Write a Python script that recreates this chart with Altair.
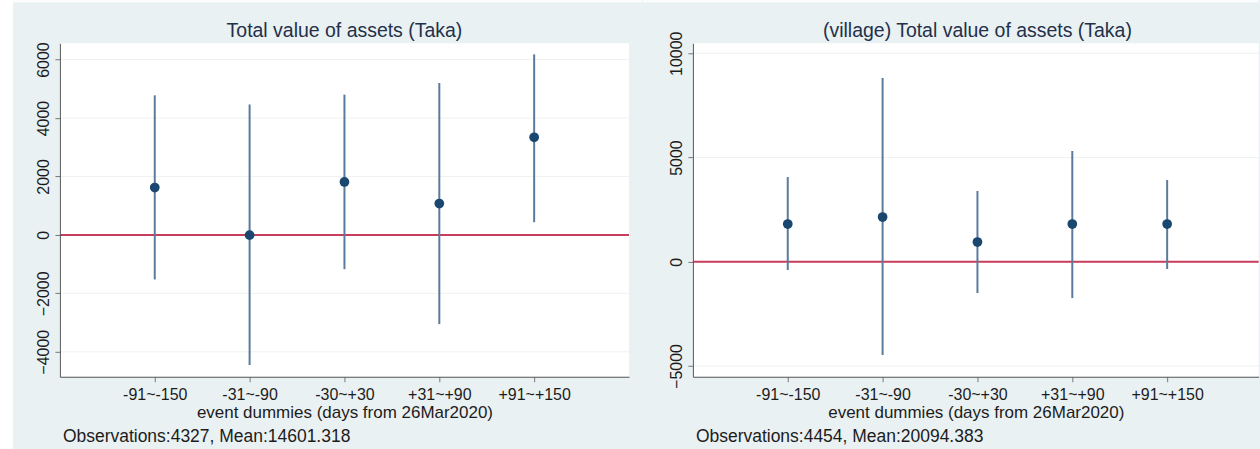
import altair as alt
import pandas as pd

# Event-window categories (days from 26Mar2020)
categories = ["-91~-150", "-31~-90", "-30~+30", "+31~+90", "+91~+150"]
positions = [1, 2, 3, 4, 5]

# Panel A: total value of assets (Taka)
a_coef = [1620, -10, 1812, 1073, 3340]
a_low = [-1525, -4454, -1173, -3053, 434]
a_high = [4776, 4458, 4800, 5197, 6178]
a_ticks = [-4000, -2000, 0, 2000, 4000, 6000]
a_domain = [-4855, 6557]

# Panel B: (village) total value of assets (Taka)
b_coef = [1809, 2145, 945, 1809, 1809]
b_low = [-398, -4477, -1502, -1742, -350]
b_high = [4064, 8815, 3393, 5312, 3920]
b_ticks = [-5000, 0, 5000, 10000]
b_domain = [-5518, 10480]

titles = ["Total value of assets (Taka)", "(village) Total value of assets (Taka)"]
notes = ["Observations:4327, Mean:14601.318", "Observations:4454, Mean:20094.383"]
x_title = "event dummies (days from 26Mar2020)"

W, H = 570, 334          # full plot-region size
FONT = "Liberation Sans"
PANEL_BG = "#EAF1F3"
TEXT = "#1c1c1c"
NAVY = "#1a476f"
CI = "#5a7b9b"
ZERO = "#c93d5c"

label_expr = "[" + ",".join("'%s'" % c for c in categories) + "][datum.value - 1]"


def panel(coef, low, high, ticks, domain, title, note, width, left_edge, right_edge,
          white_margin):
    df = pd.DataFrame({"pos": positions, "cat": categories, "coef": coef,
                       "low": low, "high": high})
    grid_df = pd.DataFrame({"v": ticks})
    zero_df = pd.DataFrame({"v": [0]})
    one = pd.DataFrame({"k": [0]})

    # keep the same px-per-category spacing even when the region is trimmed
    xs = alt.Scale(domain=[0, 6 * width / W], nice=False, zero=False)
    ys = alt.Scale(domain=domain, nice=False, zero=False)

    x_axis = alt.Axis(values=positions, labelExpr=label_expr, title=x_title,
                      grid=False, tickSize=5, labelPadding=5, titlePadding=2,
                      labelFontSize=16, titleFontSize=17, labelFont=FONT,
                      titleFont=FONT, labelColor=TEXT, titleColor=TEXT,
                      titleFontWeight="normal", domainColor="#555555",
                      tickColor="#777777", zindex=1)
    y_axis = alt.Axis(values=ticks, title=None, grid=False, tickSize=5,
                      labelAngle=-90, labelAlign="center", labelBaseline="bottom",
                      labelPadding=3, labelFontSize=16, labelFont=FONT,
                      labelColor=TEXT, domainColor="#555555", tickColor="#777777",
                      format="d", zindex=1)

    layers = []
    # panel extent (transparent) so both panels tile the page exactly
    layers.append(alt.Chart(one).mark_rect(color=PANEL_BG, opacity=0).encode(
        x=alt.value(left_edge), x2=alt.value(right_edge),
        y=alt.value(-43), y2=alt.value(H + 72)))
    # white strip along the top of the page
    layers.append(alt.Chart(one).mark_rect(color="white").encode(
        x=alt.value(left_edge), x2=alt.value(right_edge),
        y=alt.value(-43), y2=alt.value(-41)))
    if white_margin:
        layers.append(alt.Chart(one).mark_rect(color="white").encode(
            x=alt.value(left_edge), x2=alt.value(left_edge + white_margin),
            y=alt.value(-43), y2=alt.value(H + 72)))
    layers.append(alt.Chart(one).mark_rect(color="white").encode(
        x=alt.value(0), x2=alt.value(width), y=alt.value(0), y2=alt.value(H)))
    layers.append(alt.Chart(grid_df).mark_rule(color="#edf2f4", strokeWidth=1).encode(
        y=alt.Y("v:Q", scale=ys, axis=y_axis)))
    layers.append(alt.Chart(zero_df).mark_rule(color=ZERO, strokeWidth=2).encode(
        y=alt.Y("v:Q", scale=ys)))
    layers.append(alt.Chart(df).mark_rule(color=CI, strokeWidth=2).encode(
        x=alt.X("pos:Q", scale=xs, axis=x_axis),
        y=alt.Y("low:Q", scale=ys),
        y2="high:Q"))
    layers.append(alt.Chart(df).mark_point(filled=True, size=95, color=NAVY,
                                           opacity=1).encode(
        x=alt.X("pos:Q", scale=xs),
        y=alt.Y("coef:Q", scale=ys)))
    layers.append(alt.Chart(one).mark_text(text=title, font=FONT, fontSize=19.5,
                                           color="#22304a", align="center",
                                           baseline="alphabetic").encode(
        x=alt.value(W / 2), y=alt.value(-6)))
    layers.append(alt.Chart(one).mark_text(text=note, font=FONT, fontSize=17.5,
                                           color=TEXT, align="left",
                                           baseline="alphabetic").encode(
        x=alt.value(3), y=alt.value(H + 65)))
    return alt.layer(*layers).properties(width=width, height=H)


left = panel(a_coef, a_low, a_high, a_ticks, a_domain, titles[0], notes[0],
             W, -60, 583, 13)
right = panel(b_coef, b_low, b_high, b_ticks, b_domain, titles[1], notes[1],
              566.7, -50.3, 566.7, 0)

chart = alt.hconcat(left, right, spacing=0).resolve_scale(y="independent").properties(
    padding={"left": 0, "top": 0, "right": 0, "bottom": 0}
).configure(background=PANEL_BG).configure_view(stroke=None)

chart.save("out.html", embed_options={"renderer": "svg", "actions": False})
